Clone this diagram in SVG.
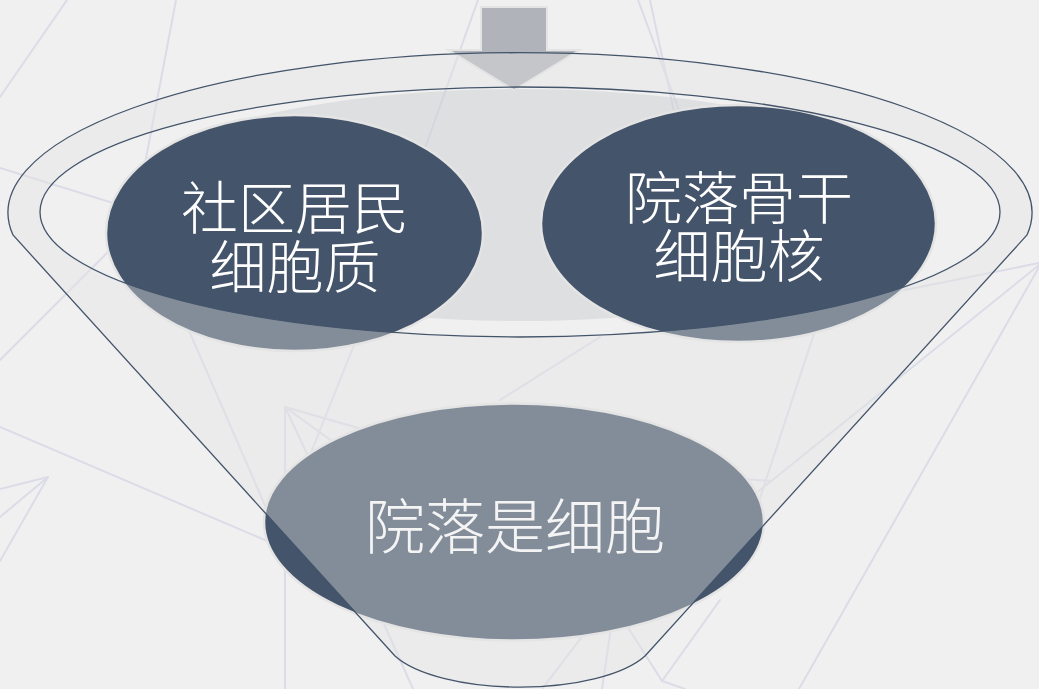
<svg xmlns="http://www.w3.org/2000/svg" width="1039" height="689" viewBox="0 0 1039 689">
  <style>
    .bgline { stroke: #dcdce8; stroke-width: 2; fill: none; stroke-linecap: round; }
    .node-shape { fill: #44546a; stroke: #e4e4e4; stroke-width: 2.5; }
    .label { fill: #ffffff; font-family: "Noto Sans CJK SC", "Noto Sans CJK JP", sans-serif; font-weight: 300; text-anchor: middle; dominant-baseline: central; }
    .outline { fill: none; stroke: #44546a; stroke-width: 1.3; }
  </style>

  <rect width="1039" height="689" fill="#f0f0f0"/>

  <g id="background">
    <line class="bgline" x1="67" y1="0" x2="0" y2="97"/>
    <line class="bgline" x1="176" y1="0" x2="140" y2="190"/>
    <line class="bgline" x1="0" y1="168" x2="200" y2="230"/>
    <line class="bgline" x1="0" y1="360" x2="160" y2="200"/>
    <line class="bgline" x1="478" y1="0" x2="410" y2="190"/>
    <line class="bgline" x1="638" y1="0" x2="690" y2="140"/>
    <line class="bgline" x1="650" y1="0" x2="680" y2="140"/>
    <line class="bgline" x1="1039" y1="263" x2="880" y2="295"/>
    <line class="bgline" x1="1039" y1="265" x2="759" y2="491"/>
    <line class="bgline" x1="1039" y1="267" x2="799" y2="689"/>
    <line class="bgline" x1="825" y1="300" x2="759" y2="501"/>
    <line class="bgline" x1="700" y1="476" x2="772" y2="481"/>
    <line class="bgline" x1="0" y1="427" x2="300" y2="555"/>
    <line class="bgline" x1="48" y1="477" x2="0" y2="489"/>
    <line class="bgline" x1="48" y1="477" x2="0" y2="517"/>
    <line class="bgline" x1="48" y1="477" x2="0" y2="561"/>
    <line class="bgline" x1="285" y1="407" x2="285" y2="689"/>
    <line class="bgline" x1="285" y1="407" x2="400" y2="440"/>
    <line class="bgline" x1="285" y1="407" x2="340" y2="447"/>
    <line class="bgline" x1="285" y1="407" x2="310" y2="460"/>
    <line class="bgline" x1="180" y1="310" x2="280" y2="540"/>
    <line class="bgline" x1="360" y1="330" x2="300" y2="480"/>
    <line class="bgline" x1="600" y1="337" x2="500" y2="400"/>
    <line class="bgline" x1="360" y1="570" x2="413" y2="689"/>
    <line class="bgline" x1="662" y1="681" x2="620" y2="615"/>
    <line class="bgline" x1="662" y1="681" x2="720" y2="600"/>
    <line class="bgline" x1="662" y1="681" x2="685" y2="689"/>
    <line class="bgline" x1="615" y1="600" x2="602" y2="689"/>
    <line class="bgline" x1="610" y1="600" x2="542" y2="689"/>
  </g>

  <ellipse id="funnel-shadow" cx="520" cy="205" rx="405" ry="116" fill="#d0d1d4" fill-opacity="0.55"/>

  <g id="arrow">
    <path d="M482 8 H546 V51 H576 L514 89 L452 51 H482 Z" fill="#b0b3ba" stroke="#e4e4e4" stroke-width="4" stroke-linejoin="miter" paint-order="stroke"/>
  </g>

  <g id="node-left">
    <ellipse class="node-shape" cx="294.5" cy="233" rx="188.5" ry="118"/>
    <text class="label" x="295" y="204" font-size="57">社区居民</text>
    <text class="label" x="295" y="263" font-size="57">细胞质</text>
  </g>

  <g id="node-right">
    <ellipse class="node-shape" cx="738.5" cy="223.5" rx="197.5" ry="118.5"/>
    <text class="label" x="739" y="194" font-size="57">院落骨干</text>
    <text class="label" x="739" y="252" font-size="57">细胞核</text>
  </g>

  <g id="node-bottom">
    <ellipse class="node-shape" cx="514" cy="522" rx="250" ry="118.5"/>
    <text class="label" x="515" y="522" font-size="60">院落是细胞</text>
  </g>

  <g id="funnel">
    <path d="M13 235 A512 160 0 1 1 1027 235 L645 656 A135 50 0 0 1 395 656 Z M40 212 A480 125 0 1 0 1000 212 A480 125 0 1 0 40 212 Z" fill="#e4e4e4" fill-opacity="0.4" fill-rule="evenodd"/>
    <path class="outline" d="M13 235 A512 160 0 1 1 1027 235 L645 656 A135 50 0 0 1 395 656 Z"/>
    <ellipse class="outline" cx="520" cy="212" rx="480" ry="125"/>
  </g>
</svg>
